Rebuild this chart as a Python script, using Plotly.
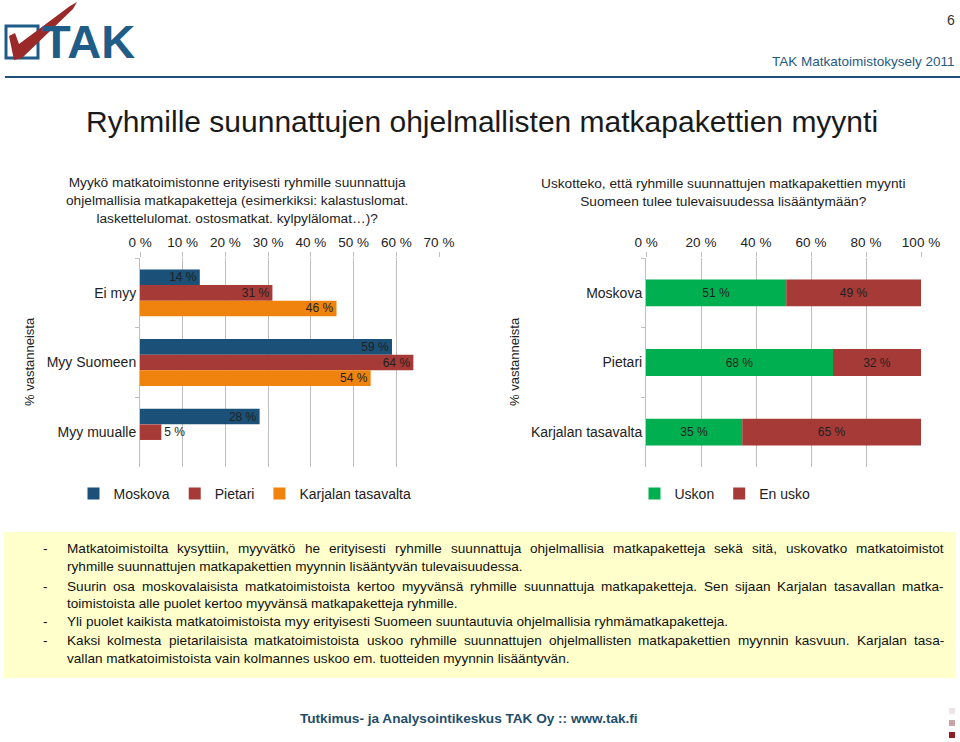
import plotly.graph_objects as go

# ---------------- data ----------------
left_categories = ["Ei myy", "Myy Suomeen", "Myy muualle"]
moskova = [14, 59, 28]
pietari = [31, 64, 5]
karjala = [46, 54, None]

right_categories = ["Moskova", "Pietari", "Karjalan tasavalta"]
uskon = [51, 68, 35]
en_usko = [49, 32, 65]

left_ticks = [0, 10, 20, 30, 40, 50, 60, 70]
left_ticktext = ["0 %", "10 %", "20 %", "30 %", "40 %", "50 %", "60 %", "70 %"]
right_ticks = [0, 20, 40, 60, 80, 100]
right_ticktext = ["0 %", "20 %", "40 %", "60 %", "80 %", "100 %"]

W, H = 960, 742
FONT = "Liberation Sans, Arial, sans-serif"


def px(x):
    return x / W


def py(y):
    return 1 - y / H


C_MOS = "#1B5078"
C_PIE = "#A63A36"
C_KAR = "#F0820E"
C_GREEN = "#00B050"
C_GRID = "#BFBFBF"
TXT = "#222222"

fig = go.Figure()


def lbl(vals):
    return [("%d %%" % v) if v is not None else "" for v in vals]


def pos(vals):
    return ["outside" if (v is not None and v < 8) else "inside" for v in vals]


for name, vals, col in [("Moskova", moskova, C_MOS), ("Pietari", pietari, C_PIE),
                        ("Karjalan tasavalta", karjala, C_KAR)]:
    fig.add_trace(go.Bar(
        y=left_categories, x=vals, name=name, orientation="h",
        marker=dict(color=col, line=dict(width=0)),
        text=lbl(vals), textposition=pos(vals), insidetextanchor="end",
        textfont=dict(size=12, color=TXT, family=FONT),
        constraintext="none", cliponaxis=False,
        xaxis="x", yaxis="y", legend="legend", hoverinfo="skip",
    ))

bw = 27 / 70
fig.add_trace(go.Bar(
    y=right_categories, x=uskon, name="Uskon", orientation="h",
    marker=dict(color=C_GREEN, line=dict(width=0)),
    width=bw, offset=-bw / 2,
    text=lbl(uskon), textposition="inside", insidetextanchor="middle",
    textfont=dict(size=12, color=TXT, family=FONT), constraintext="none",
    xaxis="x2", yaxis="y2", legend="legend2", hoverinfo="skip",
))
fig.add_trace(go.Bar(
    y=right_categories, x=en_usko, base=uskon, name="En usko", orientation="h",
    marker=dict(color=C_PIE, line=dict(width=0)),
    width=bw, offset=-bw / 2,
    text=lbl(en_usko), textposition="inside", insidetextanchor="middle",
    textfont=dict(size=12, color=TXT, family=FONT), constraintext="none",
    xaxis="x2", yaxis="y2", legend="legend2", hoverinfo="skip",
))

xcommon = dict(side="top", showgrid=True, gridcolor=C_GRID, gridwidth=1,
               zeroline=False, showline=False, ticks="outside", ticklen=5,
               tickcolor=C_GRID, fixedrange=True, tickmode="array", layer="below traces",
               automargin=False, tickfont=dict(size=13.5, color=TXT, family=FONT))
ycommon = dict(autorange="reversed", showgrid=False, zeroline=False,
               showline=True, linecolor=C_GRID, linewidth=1, ticks="outside",
               ticklen=4, tickcolor=C_GRID, tickson="boundaries", fixedrange=True,
               automargin=False, tickfont=dict(size=14, color=TXT, family=FONT))

shapes = []
annotations = []

# header line
shapes.append(dict(type="line", xref="paper", yref="paper", x0=px(5), x1=px(960),
                   y0=py(77), y1=py(77), line=dict(color="#1F4E79", width=2)))
# logo: box outline
shapes.append(dict(type="rect", xref="paper", yref="paper", x0=px(6), x1=px(38),
                   y0=py(58), y1=py(26), line=dict(color="#1F5C87", width=3)))
# logo: red check mark (brush stroke)
pts = [(9, 36), (15, 33), (19, 44), (70, 6), (77, 2), (73, 9), (22, 58), (14, 60)]
path = "M " + " L ".join("%.5f,%.5f" % (px(a), py(b)) for a, b in pts) + " Z"
shapes.append(dict(type="path", xref="paper", yref="paper", path=path,
                   fillcolor="#9A2A2A", line=dict(width=0), layer="above"))
annotations.append(dict(text="<b>TAK</b>", x=px(40), y=py(42), xref="paper", yref="paper",
                        xanchor="left", yanchor="middle", showarrow=False,
                        font=dict(size=47, color="#1F5C87", family=FONT)))
annotations.append(dict(text="6", x=px(957), y=py(20), xref="paper", yref="paper",
                        xanchor="right", yanchor="middle", showarrow=False,
                        font=dict(size=14, color="#333333", family=FONT)))
annotations.append(dict(text="TAK Matkatoimistokysely 2011", x=px(957), y=py(61),
                        xref="paper", yref="paper", xanchor="right", yanchor="middle",
                        showarrow=False, font=dict(size=13.5, color="#1F5A82", family=FONT)))
# main title
annotations.append(dict(text="Ryhmille suunnattujen ohjelmallisten matkapakettien myynti",
                        x=px(84), y=py(121), xref="paper", yref="paper",
                        xanchor="left", yanchor="middle", showarrow=False,
                        font=dict(size=30, color="#1A1A1A", family=FONT)))
# chart titles
annotations.append(dict(text="Myykö matkatoimistonne erityisesti ryhmille suunnattuja<br>"
                             "ohjelmallisia matkapaketteja (esimerkiksi: kalastuslomat.<br>"
                             "laskettelulomat. ostosmatkat. kylpylälomat…)?",
                        x=px(237), y=py(200), xref="paper", yref="paper",
                        xanchor="center", yanchor="middle", showarrow=False,
                        font=dict(size=13.7, color=TXT, family=FONT)))
annotations.append(dict(text="Uskotteko, että ryhmille suunnattujen matkapakettien myynti<br>"
                             "Suomeen tulee tulevaisuudessa lisääntymään?",
                        x=px(723), y=py(192), xref="paper", yref="paper",
                        xanchor="center", yanchor="middle", showarrow=False,
                        font=dict(size=13.7, color=TXT, family=FONT)))
# y axis titles
for xx in (30, 515):
    annotations.append(dict(text="% vastanneista", x=px(xx), y=py(362), xref="paper",
                            yref="paper", textangle=-90, xanchor="center",
                            yanchor="middle", showarrow=False,
                            font=dict(size=13, color=TXT, family=FONT)))

# yellow text box
shapes.append(dict(type="rect", xref="paper", yref="paper", x0=px(4), x1=px(956),
                   y0=py(678), y1=py(532), fillcolor="#FFFFCC", line=dict(width=0),
                   layer="below"))
lines = [
    (548, True, True, "Matkatoimistoilta kysyttiin, myyvätkö he erityisesti ryhmille suunnattuja ohjelmallisia matkapaketteja sekä sitä, uskovatko matkatoimistot"),
    (566, False, False, "ryhmille suunnattujen matkapakettien myynnin lisääntyvän tulevaisuudessa."),
    (586, True, True, "Suurin osa moskovalaisista matkatoimistoista kertoo myyvänsä ryhmille suunnattuja matkapaketteja. Sen sijaan Karjalan tasavallan matka-"),
    (603, False, False, "toimistoista alle puolet kertoo myyvänsä matkapaketteja ryhmille."),
    (621, True, False, "Yli puolet kaikista matkatoimistoista myy erityisesti Suomeen suuntautuvia ohjelmallisia ryhmämatkapaketteja."),
    (640, True, True, "Kaksi kolmesta pietarilaisista matkatoimistoista uskoo ryhmille suunnattujen ohjelmallisten matkapakettien myynnin kasvuun. Karjalan tasa-"),
    (658, False, False, "vallan matkatoimistoista vain kolmannes uskoo em. tuotteiden myynnin lisääntyvän."),
]

# approximate Arial / Liberation Sans advance widths (per 1000 em) for justification
AW = {" ": 278, ",": 278, ".": 278, "-": 333, ":": 278,
      "a": 556, "b": 556, "c": 500, "d": 556, "e": 556, "f": 278, "g": 556, "h": 556,
      "i": 222, "j": 222, "k": 500, "l": 222, "m": 833, "n": 556, "o": 556, "p": 556,
      "q": 556, "r": 333, "s": 500, "t": 278, "u": 556, "v": 500, "w": 722, "x": 500,
      "y": 500, "z": 500, "ä": 556, "ö": 556,
      "K": 667, "M": 833, "S": 667, "Y": 667, "R": 722}


def tw(s, size):
    return sum(AW.get(ch, 556) for ch in s) * size / 1000.0


TS = 13.6
X0, X1 = 66, 943
for yy, bullet, justify, t in lines:
    if bullet:
        annotations.append(dict(text="-", x=px(41), y=py(yy), xref="paper", yref="paper",
                                xanchor="left", yanchor="middle", showarrow=False,
                                font=dict(size=TS, color="#111111", family=FONT)))
    if justify:
        words = t.split(" ")
        widths = [tw(w, TS) for w in words]
        gap = (X1 - X0 - sum(widths)) / (len(words) - 1)
        xcur = X0
        for w, wd in zip(words, widths):
            annotations.append(dict(text=w, x=px(xcur), y=py(yy), xref="paper",
                                    yref="paper", xanchor="left", yanchor="middle",
                                    showarrow=False, borderpad=0,
                                    font=dict(size=TS, color="#111111", family=FONT)))
            xcur += wd + gap
    else:
        annotations.append(dict(text=t, x=px(X0), y=py(yy), xref="paper", yref="paper",
                                xanchor="left", yanchor="middle", showarrow=False,
                                borderpad=0,
                                font=dict(size=TS, color="#111111", family=FONT)))

# footer
annotations.append(dict(text="<b>Tutkimus- ja Analysointikeskus TAK Oy :: www.tak.fi</b>",
                        x=px(469), y=py(718), xref="paper", yref="paper",
                        xanchor="center", yanchor="middle", showarrow=False,
                        font=dict(size=13.6, color="#1F4E6B", family=FONT)))
for yy, col in [(711, "#EEE4E6"), (723, "#C9A2A6"), (735, "#8E1F25")]:
    shapes.append(dict(type="rect", xref="paper", yref="paper", x0=px(949), x1=px(955),
                       y0=py(yy + 3), y1=py(yy - 3), fillcolor=col, line=dict(width=0)))

fig.update_layout(
    width=W, height=H, autosize=False,
    margin=dict(l=0, r=0, t=0, b=0, pad=0, autoexpand=False),
    paper_bgcolor="white", plot_bgcolor="rgba(0,0,0,0)",
    barmode="group", bargap=23 / 70, bargroupgap=0, hovermode=False,
    font=dict(family=FONT, color=TXT),
    xaxis=dict(domain=[px(140), px(439)], range=[0, 70], tickvals=left_ticks,
               ticktext=left_ticktext, anchor="y", **xcommon),
    yaxis=dict(domain=[py(467), py(258)], anchor="x", categoryorder="array",
               categoryarray=left_categories, **ycommon),
    xaxis2=dict(domain=[px(646), px(921)], range=[0, 100], tickvals=right_ticks,
                ticktext=right_ticktext, anchor="y2", **xcommon),
    yaxis2=dict(domain=[py(467), py(258)], anchor="x2", categoryorder="array",
                categoryarray=right_categories, **ycommon),
    legend=dict(orientation="h", x=px(245), y=py(494), xanchor="center", yanchor="middle",
                font=dict(size=14, color=TXT, family=FONT), bgcolor="rgba(0,0,0,0)",
                itemwidth=30, traceorder="normal"),
    legend2=dict(orientation="h", x=px(725), y=py(494), xanchor="center", yanchor="middle",
                 font=dict(size=14, color=TXT, family=FONT), bgcolor="rgba(0,0,0,0)",
                 itemwidth=30, traceorder="normal"),
    shapes=shapes, annotations=annotations, showlegend=True,
)
fig.write_html("out.html",
               config={"responsive": False, "displayModeBar": False},
               post_script="document.body.style.margin='0';")
